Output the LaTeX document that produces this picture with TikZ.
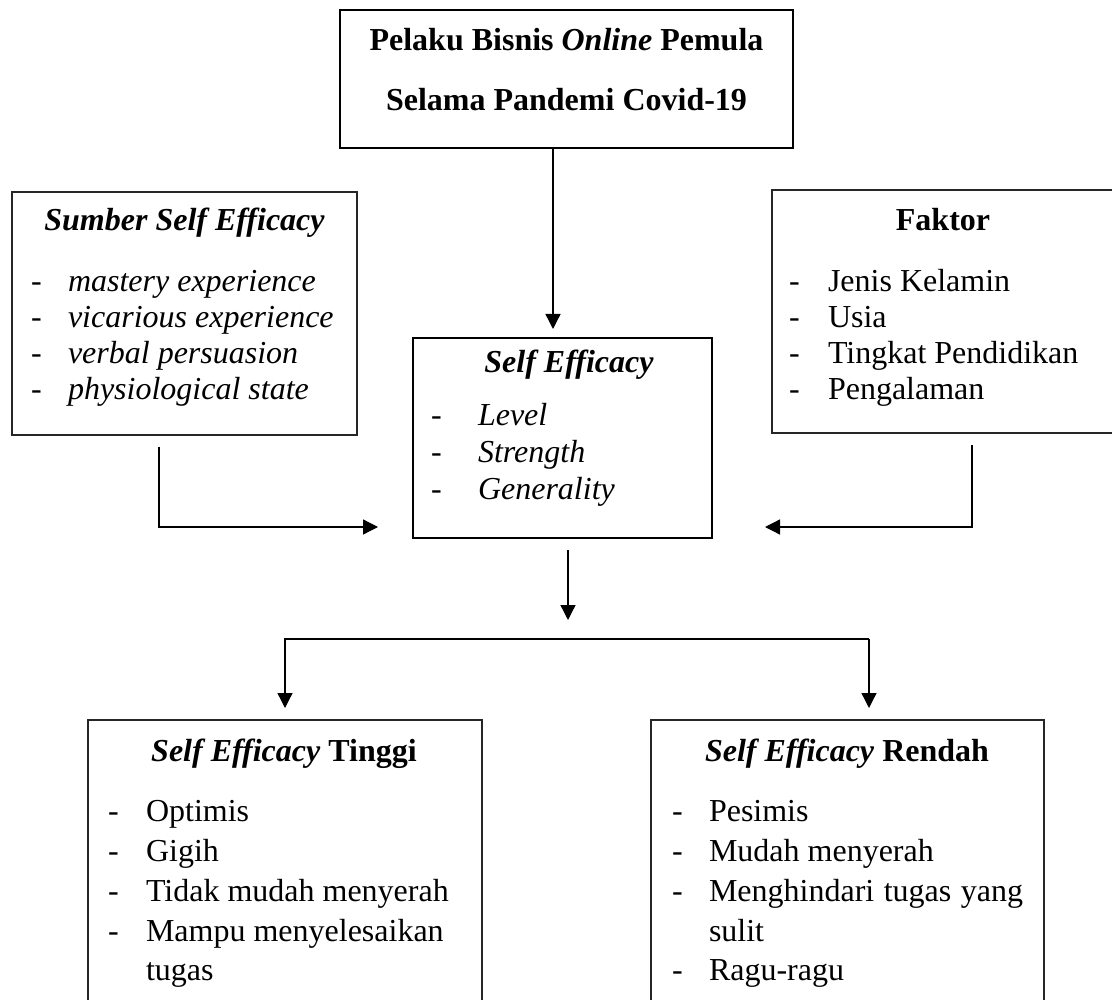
\documentclass[tikz,border=0pt]{standalone}
\usepackage{fontspec}
\setmainfont{Liberation Serif}
\usetikzlibrary{arrows.meta}
\begin{document}
\begin{tikzpicture}[x=1pt,y=-1pt,
  every node/.style={inner sep=0pt, outer sep=0pt},
  box/.style={draw=black!85, line width=1.3pt, rectangle},
  thickbox/.style={draw=black, line width=2.8pt, rectangle},
  midbox/.style={draw=black, line width=2.6pt, rectangle},
  ttl/.style={anchor=base, font=\fontsize{32}{38}\selectfont\bfseries},
  dashmark/.style={anchor=base west, font=\fontsize{32}{38}\selectfont},
  itm/.style={anchor=base west, font=\fontsize{32}{38}\selectfont},
  itmit/.style={anchor=base west, font=\fontsize{32}{38}\selectfont\itshape},
  arr/.style={draw=black, line width=1.3pt, -{Triangle[length=15pt,width=15pt]}},
  conn/.style={draw=black, line width=1.3pt}
]
\useasboundingbox (0,0) rectangle (1112,1000);
\clip (0,0) rectangle (1112,1000);
\fill[white] (0,0) rectangle (1112,1000);

% boxes
\node[thickbox, minimum width=453pt, minimum height=138pt] (topbox) at (566.5,79) {};
\node[box, minimum width=345pt, minimum height=243pt] (sumber) at (184.5,313.5) {};
\node[box, minimum width=342pt, minimum height=243pt] (faktor) at (943,311.5) {};
\node[midbox, minimum width=299pt, minimum height=200pt] (selfeff) at (562.5,438) {};
\node[box, minimum width=394pt, minimum height=300pt] (tinggi) at (285,870) {};
\node[box, minimum width=393pt, minimum height=300pt] (rendah) at (847.5,870) {};

% top box text
\node[ttl] (top1) at (566.5,51) {Pelaku Bisnis \textit{Online} Pemula};
\node[ttl] (top2) at (566.5,110.5) {Selama Pandemi Covid-19};

% sumber
\node[ttl] (sumbert) at (184.5,231) {\itshape Sumber Self Efficacy};
\foreach \txt/\yy [count=\i] in {mastery experience/292, vicarious experience/328, verbal persuasion/364, physiological state/400}{
  \node[dashmark] (sd\i) at (31,\yy) {-};
  \node[itmit] (si\i) at (68,\yy) {\txt};
}

% faktor
\node[ttl] (faktort) at (943,231) {Faktor};
\foreach \txt/\yy [count=\i] in {Jenis Kelamin/292, Usia/328, Tingkat Pendidikan/364, Pengalaman/400}{
  \node[dashmark] (fd\i) at (789,\yy) {-};
  \node[itm] (fi\i) at (828,\yy) {\txt};
}

% self efficacy
\node[ttl] (selft) at (569,372.5) {\itshape Self Efficacy};
\foreach \txt/\yy [count=\i] in {Level/426, Strength/463, Generality/499}{
  \node[dashmark] (ed\i) at (431,\yy) {-};
  \node[itmit] (ei\i) at (478,\yy) {\txt};
}

% tinggi
\node[ttl] (tinggit) at (284,761) {\textit{Self Efficacy} Tinggi};
\foreach \txt/\yy [count=\i] in {Optimis/821, Gigih/861, Tidak mudah menyerah/901, Mampu menyelesaikan/941}{
  \node[dashmark] (td\i) at (108,\yy) {-};
  \node[itm] (ti\i) at (146,\yy) {\txt};
}
\node[itm] (ti5) at (146,980) {tugas};

% rendah
\node[ttl] (rendaht) at (847,761) {\textit{Self Efficacy} Rendah};
\node[dashmark] (rd1) at (672,821) {-};
\node[itm] (ri1) at (709,821) {Pesimis};
\node[dashmark] (rd2) at (672,861) {-};
\node[itm] (ri2) at (709,861) {Mudah menyerah};
\node[dashmark] (rd3) at (672,901) {-};
\node[itm] (ri3) at (709,901) {\makebox[314pt][s]{Menghindari tugas yang}};
\node[itm] (ri4) at (709,941) {sulit};
\node[dashmark] (rd5) at (672,980) {-};
\node[itm] (ri5) at (709,980) {Ragu-ragu};

% connectors
\draw[arr] ([xshift=-13.5pt]topbox.south) -- ([xshift=-9.5pt,yshift=9pt]selfeff.north);
\draw[arr] ([xshift=-25.5pt,yshift=-12pt]sumber.south) |- ([xshift=-35pt,yshift=-89pt]selfeff.west);
\draw[arr] ([xshift=29pt,yshift=-12pt]faktor.south) |- ([xshift=53pt,yshift=-89pt]selfeff.east);
\draw[arr] ([xshift=5.5pt,yshift=-12pt]selfeff.south) -- ([xshift=5.5pt,yshift=-82pt]selfeff.south);
\coordinate (busR) at ([xshift=21.5pt,yshift=81pt]rendah.north);
\draw[arr] (busR) -- ([yshift=81pt]tinggi.north) -- ([yshift=12pt]tinggi.north);
\draw[arr] (busR) -- ([xshift=21.5pt,yshift=12pt]rendah.north);
\end{tikzpicture}
\end{document}
